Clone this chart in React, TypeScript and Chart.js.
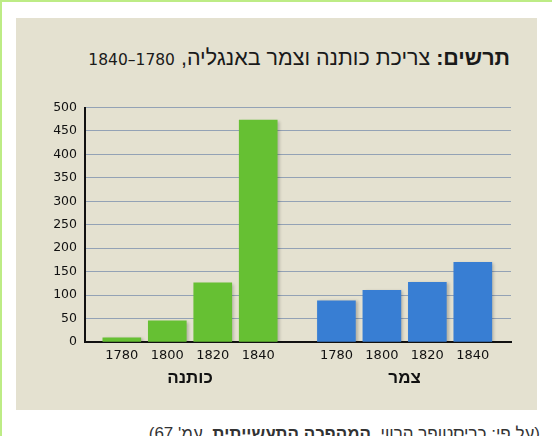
import { useEffect, useRef } from 'react';
import { Chart, registerables } from 'chart.js';

Chart.register(...registerables);

const years = ['1780', '1800', '1820', '1840'];
const cottonValues = [9, 45, 126, 473];
const woolValues = [88, 110, 127, 170];
const groupNames = ['כותנה', 'צמר'];
const yMax = 500;
const yStep = 50;

// x layout in bar-slot units (1 = distance between neighbouring bars)
const WOOL_SHIFT = 4.72;
const X_MIN = -0.81;
const X_MAX = 8.56;

const FONT = "'DejaVu Sans', sans-serif";
const HEB_FONT = "'Liberation Sans', Arial, sans-serif";

// soft shadow behind the bars, like the printed original
const barShadow = {
  id: 'barShadow',
  beforeDatasetsDraw(chart: any) {
    const ctx = chart.ctx;
    ctx.save();
    ctx.shadowColor = 'rgba(0,0,0,0.22)';
    ctx.shadowBlur = 3;
    ctx.shadowOffsetX = 2;
    ctx.shadowOffsetY = 1;
  },
  afterDatasetsDraw(chart: any) {
    chart.ctx.restore();
  },
};

export default function App() {
  const canvasRef = useRef<HTMLCanvasElement>(null);
  const chartRef = useRef<Chart | null>(null);

  useEffect(() => {
    if (!canvasRef.current) return;
    if (chartRef.current) chartRef.current.destroy();

    const cottonX = years.map((_, i) => i);
    const woolX = years.map((_, i) => i + WOOL_SHIFT);
    const tickPositions = [...cottonX, ...woolX];
    const tickLabels = [...years, ...years];
    const groupPositions = [
      (cottonX[0] + cottonX[cottonX.length - 1]) / 2,
      (woolX[0] + woolX[woolX.length - 1]) / 2,
    ];

    chartRef.current = new Chart(canvasRef.current, {
      type: 'bar',
      data: {
        datasets: [
          {
            label: groupNames[0],
            data: cottonValues.map((v, i) => ({ x: cottonX[i], y: v })),
            backgroundColor: '#66c033',
          },
          {
            label: groupNames[1],
            data: woolValues.map((v, i) => ({ x: woolX[i], y: v })),
            backgroundColor: '#387ed3',
          },
        ],
      },
      options: {
        responsive: false,
        animation: false,
        layout: { padding: { top: 10, right: 19, bottom: 0, left: 0 } },
        plugins: {
          legend: { display: false },
          tooltip: { enabled: false },
        },
        datasets: { bar: { grouped: false, barThickness: 38 } },
        scales: {
          x: {
            type: 'linear',
            offset: false,
            min: X_MIN,
            max: X_MAX,
            grid: { display: false, drawTicks: false, offset: false },
            border: { display: true, color: '#111', width: 2 },
            afterBuildTicks: (s: any) => {
              s.ticks = tickPositions.map((value) => ({ value }));
            },
            afterFit: (s: any) => {
              s.height = 24;
            },
            ticks: {
              autoSkip: false,
              maxRotation: 0,
              padding: 6,
              color: '#111',
              font: { family: FONT, size: 13 },
              callback: (_v: any, i: number) => tickLabels[i],
            },
          },
          xGroup: {
            type: 'linear',
            position: 'bottom',
            offset: false,
            weight: 1,
            min: X_MIN,
            max: X_MAX,
            grid: { display: false, drawTicks: false, offset: false },
            border: { display: false },
            afterBuildTicks: (s: any) => {
              s.ticks = groupPositions.map((value) => ({ value }));
            },
            afterFit: (s: any) => {
              s.height = 32;
            },
            ticks: {
              autoSkip: false,
              maxRotation: 0,
              padding: 2,
              color: '#111',
              font: { family: HEB_FONT, size: 17, weight: 'bold' },
              callback: (_v: any, i: number) => groupNames[i],
            },
          },
          y: {
            min: 0,
            max: yMax,
            grid: { color: '#93a2b5', lineWidth: 1, drawTicks: false },
            border: { color: '#111', width: 2 },
            afterFit: (s: any) => {
              s.width = 45;
            },
            ticks: {
              stepSize: yStep,
              padding: 8,
              color: '#111',
              font: { family: FONT, size: 12.5 },
            },
          },
        },
      } as any,
      plugins: [barShadow],
    });

    return () => {
      if (chartRef.current) {
        chartRef.current.destroy();
        chartRef.current = null;
      }
    };
  }, []);

  return (
    <div
      style={{
        position: 'fixed',
        left: 0,
        top: 0,
        width: 552,
        height: 436,
        overflow: 'hidden',
        background: '#ffffff',
        boxSizing: 'border-box',
        borderTop: '2px solid #bdec86',
        borderLeft: '2px solid #bdec86',
        fontFamily: HEB_FONT,
      }}
    >
      <div
        style={{
          position: 'absolute',
          left: 14,
          top: 16,
          width: 521,
          height: 392,
          background: '#e4e1d0',
        }}
      />
      <div
        dir="rtl"
        style={{
          position: 'absolute',
          right: 42,
          top: 44,
          fontSize: 21.5,
          lineHeight: '24px',
          color: '#1a1a1a',
          whiteSpace: 'nowrap',
        }}
      >
        <b>תרשים:</b> צריכת כותנה וצמר באנגליה,{' '}
        <span style={{ fontFamily: FONT, fontSize: 15.5 }}>1780–1840</span>
      </div>
      <canvas
        ref={canvasRef}
        width={490}
        height={306}
        style={{ position: 'absolute', left: 38, top: 90 }}
      />
      <div
        dir="rtl"
        style={{
          position: 'absolute',
          right: 12,
          top: 422,
          fontSize: 17,
          lineHeight: '20px',
          color: '#333',
          whiteSpace: 'nowrap',
        }}
      >
        (על פי: כריסטופר הרווי, <b>המהפכה התעשייתית</b>, עמ' 67)
      </div>
    </div>
  );
}
